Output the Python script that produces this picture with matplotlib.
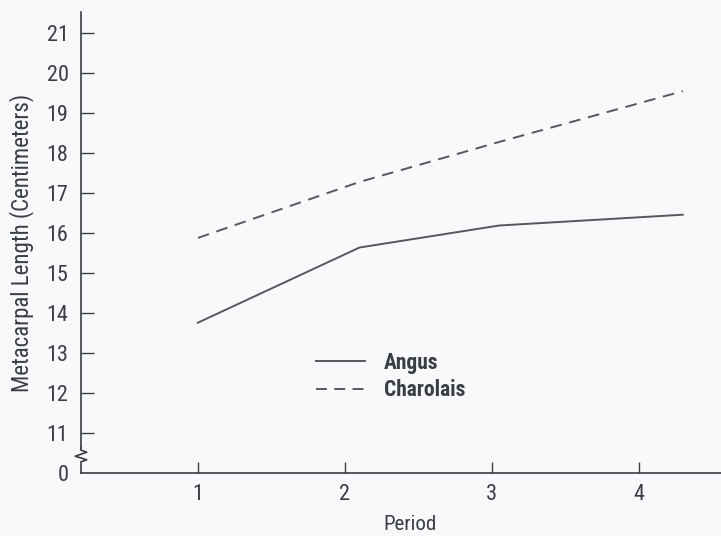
import matplotlib.pyplot as plt
from matplotlib.lines import Line2D
from matplotlib import font_manager

# data
period = [1.0, 2.1, 3.05, 4.3]
angus = [13.76, 15.64, 16.19, 16.46]
charolais = [15.88, 17.28, 18.28, 19.55]

x_ticks = [1, 2, 3, 4]
x_labels = ['1', '2', '3', '4']
y_ticks = [10, 11, 12, 13, 14, 15, 16, 17, 18, 19, 20, 21]
y_labels = ['0', '11', '12', '13', '14', '15', '16', '17', '18', '19', '20', '21']

ink = '#3a3d42'
line_col = '#55585d'

# pick a narrow face if one is around
installed = {f.name for f in font_manager.fontManager.ttflist}
narrow = [n for n in ['Liberation Sans Narrow', 'DejaVu Sans Condensed', 'Roboto Condensed']
          if n in installed]
font = narrow + ['DejaVu Sans']
k = 1.0 if narrow else 0.8   # shrink a bit when only the wide face exists

fig = plt.figure(figsize=(7.21, 5.36), dpi=100, facecolor='#f8f9fb')
ax = fig.add_axes([81 / 721, 63 / 536, 640 / 721, 461 / 536])
ax.set_facecolor('#f8f9fb')

ax.plot(period, angus, color=line_col, lw=1.4, label='Angus')
ax.plot(period, charolais, color=line_col, lw=1.4, linestyle=(0, (6, 4)), label='Charolais')

ax.set_xlim(0.204, 4.56)
ax.set_ylim(10, 21.53)

ax.set_xticks(x_ticks)
ax.set_xticklabels(x_labels, family=font, fontsize=16 * k, color=ink)
ax.set_yticks(y_ticks)
ax.set_yticklabels(y_labels, family=font, fontsize=16 * k, color=ink)
ax.tick_params(axis='x', direction='in', length=8, width=1, colors=ink, pad=8)
ax.tick_params(axis='y', direction='in', length=9, width=1, colors=ink, pad=9)
# no tick mark at the "0" position
ax.yaxis.get_major_ticks()[0].tick1line.set_visible(False)

for s in ['top', 'right']:
    ax.spines[s].set_visible(False)
ax.spines['bottom'].set_color(ink)
ax.spines['left'].set_color(ink)
ax.spines['left'].set_bounds(10.62, 21.53)
ax.spines['left'].set_linewidth(1.2)
ax.spines['bottom'].set_linewidth(1.2)

# axis break squiggle
tr = ax.get_yaxis_transform()
brk = Line2D([0, 0, 0.009, -0.009, 0.009, 0, 0],
             [10.0, 10.28, 10.33, 10.42, 10.52, 10.57, 10.63],
             transform=tr, color=ink, lw=1.2, clip_on=False)
ax.add_line(brk)

ax.set_xlabel('Period', family=font, fontsize=15 * k, color=ink)
ax.xaxis.set_label_coords(0.514, -0.092)
ax.set_ylabel('Metacarpal Length (Centimeters)', family=font, fontsize=16.5 * k, color=ink)
ax.yaxis.set_label_coords(-0.074, 0.5)

leg = ax.legend(loc='center left', bbox_to_anchor=(0.35, 0.209), frameon=False,
                borderpad=0, handlelength=2.3, handletextpad=0.85, labelspacing=0.25,
                prop={'family': font, 'size': 15.5 * k, 'weight': 'bold'})
for t in leg.get_texts():
    t.set_color(ink)
leg.get_lines()[1].set_dashes((5.6, 3.8))

fig.savefig('out.png', dpi=100, facecolor=fig.get_facecolor())
